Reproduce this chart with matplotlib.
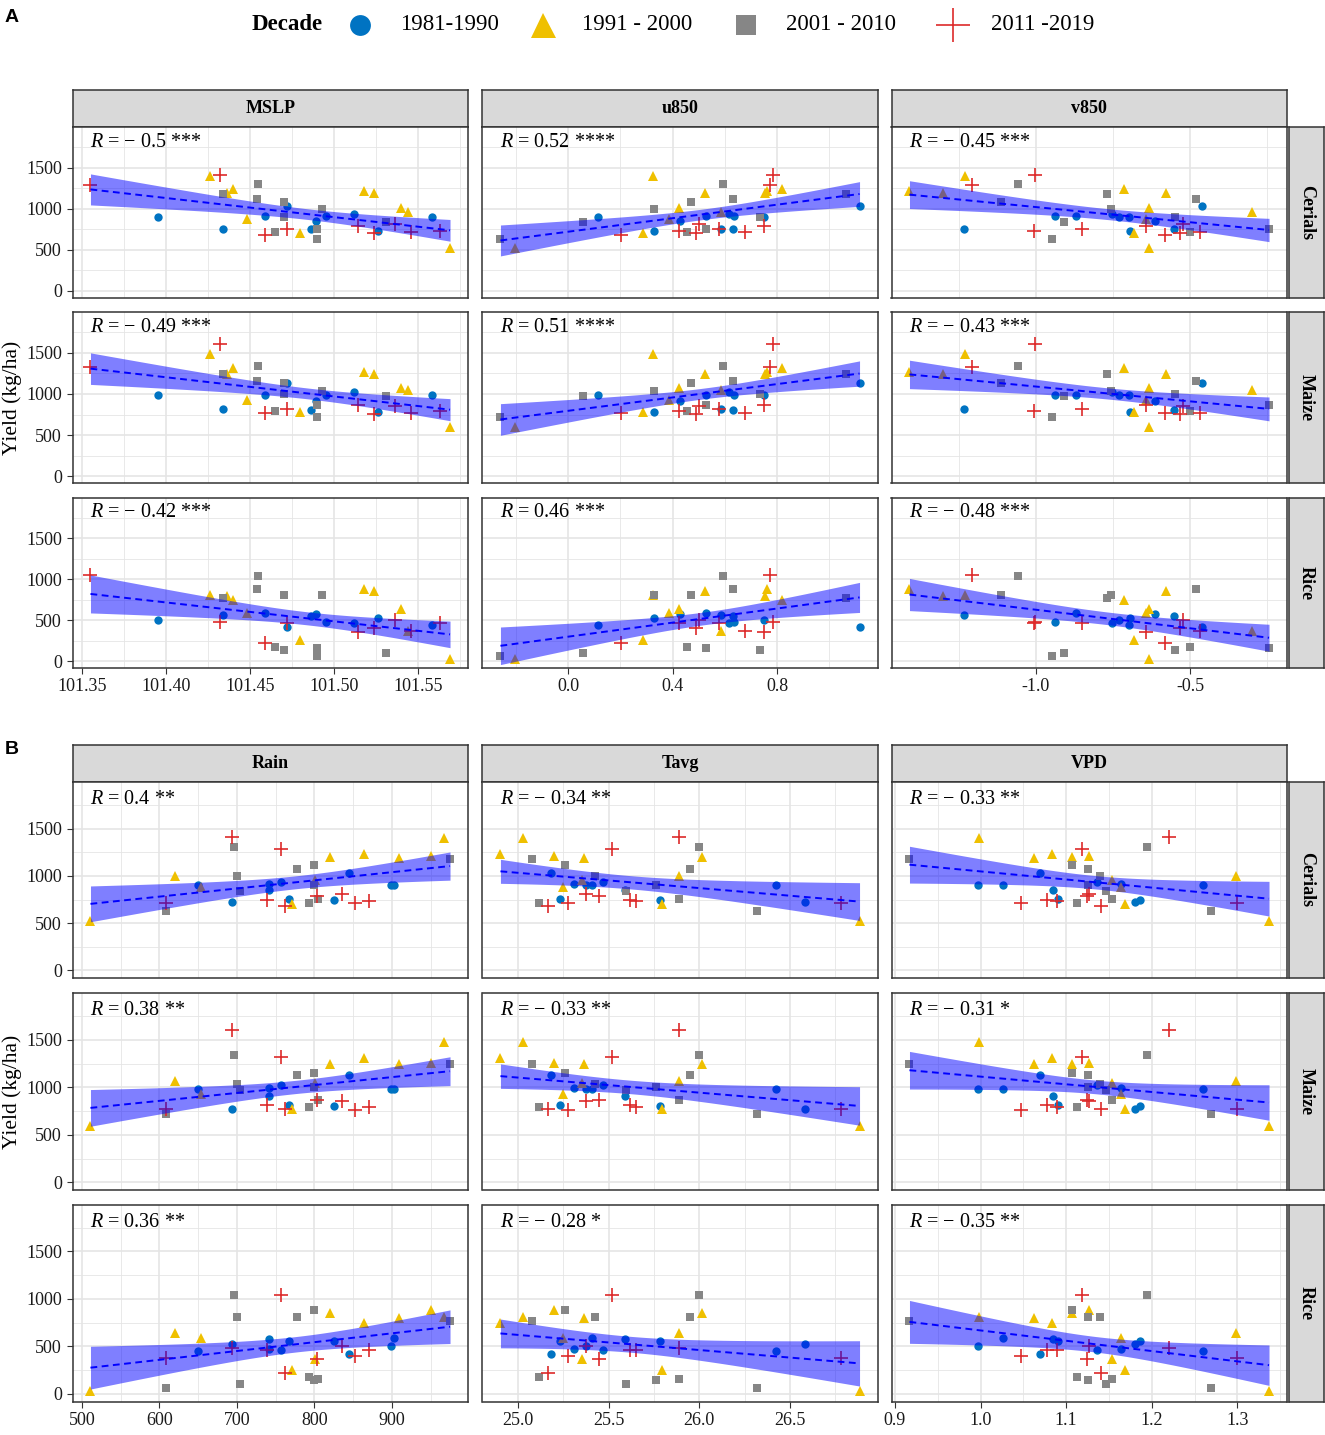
import numpy as np
import matplotlib
matplotlib.use("Agg")
import matplotlib.pyplot as plt
from matplotlib.lines import Line2D

plt.rcParams['font.family'] = 'Liberation Serif'
plt.rcParams['mathtext.fontset'] = 'custom'
plt.rcParams['mathtext.rm'] = 'Liberation Serif'
plt.rcParams['mathtext.it'] = 'Liberation Serif:italic'
plt.rcParams['axes.unicode_minus'] = False

# years 1981-2019, grouped by decade
decade_labels = ['1981-1990', '1991 - 2000', '2001 - 2010', '2011 -2019']
decade_idx = np.repeat([0, 1, 2, 3], [10, 10, 10, 9])

# yields (kg/ha)
cerials = [904, 758, 908, 1034, 750, 851, 912, 940, 726, 900,
           1398, 1188, 1236, 880, 701, 1216, 1196, 1005, 961, 523,
           1184, 1305, 1119, 1078, 900, 713, 758, 628, 1001, 843,
           1289, 1415, 681, 750, 790, 709, 811, 713, 734]
maize = [988, 815, 988, 1129, 806, 911, 992, 1028, 778, 984,
         1484, 1242, 1315, 927, 778, 1262, 1242, 1073, 1052, 597,
         1242, 1343, 1153, 1129, 1000, 790, 871, 718, 1040, 976,
         1323, 1605, 770, 819, 871, 758, 859, 770, 798]
rice = [505, 562, 586, 425, 558, 578, 477, 465, 526, 449,
        809, 801, 748, 586, 255, 882, 853, 639, 368, 32,
        772, 1043, 882, 813, 142, 174, 162, 61, 805, 105,
        1047, 481, 222, 465, 364, 404, 505, 376, 465]

# climate predictors
mslp = [101.395, 101.434, 101.459, 101.472, 101.486, 101.489, 101.495, 101.512, 101.526, 101.558,
        101.426, 101.436, 101.440, 101.448, 101.480, 101.518, 101.524, 101.540, 101.544, 101.569,
        101.434, 101.455, 101.454, 101.470, 101.470, 101.465, 101.490, 101.490, 101.493, 101.531,
        101.355, 101.432, 101.459, 101.472, 101.514, 101.524, 101.536, 101.546, 101.563]
u850 = [0.750, 0.585, 0.528, 1.115, 0.632, 0.429, 0.636, 0.617, 0.328, 0.116,
        0.325, 0.754, 0.820, 0.386, 0.287, 0.760, 0.523, 0.423, 0.585, -0.203,
        1.065, 0.592, 0.632, 0.469, 0.735, 0.455, 0.526, -0.259, 0.329, 0.055,
        0.772, 0.785, 0.201, 0.579, 0.750, 0.490, 0.499, 0.677, 0.424]
v850 = [-0.731, -1.233, -0.871, -0.462, -0.552, -0.613, -0.937, -0.754, -0.695, -0.697,
        -1.229, -1.299, -0.715, -0.643, -0.681, -1.409, -0.578, -0.632, -0.299, -0.632,
        -0.769, -1.057, -0.482, -1.113, -0.549, -0.501, -0.245, -0.947, -0.758, -0.910,
        -1.208, -1.003, -0.581, -0.851, -0.643, -0.532, -0.523, -0.469, -1.006]
rain = [899, 767, 903, 844, 825, 742, 742, 757, 694, 650,
        967, 909, 864, 653, 771, 950, 820, 620, 801, 511,
        975, 696, 800, 777, 800, 793, 805, 609, 700, 704,
        757, 694, 762, 739, 803, 852, 836, 609, 871]
tavg = [25.375, 25.232, 25.408, 25.183, 25.783, 25.591, 25.311, 25.470, 26.582, 26.421,
        25.027, 25.362, 24.903, 25.247, 25.796, 25.201, 26.015, 25.887, 25.353, 26.884,
        25.079, 26.001, 25.260, 25.951, 25.763, 25.115, 25.887, 26.317, 25.426, 25.594,
        25.518, 25.887, 25.165, 25.616, 25.448, 25.274, 25.375, 26.783, 25.653]
vpd = [0.997, 1.090, 1.026, 1.069, 1.186, 1.085, 1.164, 1.136, 1.180, 1.260,
       0.998, 1.063, 1.084, 1.164, 1.169, 1.127, 1.107, 1.299, 1.154, 1.337,
       0.917, 1.195, 1.107, 1.125, 1.125, 1.113, 1.154, 1.269, 1.139, 1.147,
       1.119, 1.220, 1.141, 1.078, 1.124, 1.047, 1.127, 1.300, 1.089]

crops = ['Cerials', 'Maize', 'Rice']
crop_yield = [cerials, maize, rice]

vars_a = ['MSLP', 'u850', 'v850']
vars_b = ['Rain', 'Tavg', 'VPD']
data_a = [mslp, u850, v850]
data_b = [rain, tavg, vpd]
ticks_a = [[101.35, 101.40, 101.45, 101.50, 101.55], [0.0, 0.4, 0.8], [-1.0, -0.5]]
ticklab_a = [['101.35', '101.40', '101.45', '101.50', '101.55'], ['0.0', '0.4', '0.8'], ['-1.0', '-0.5']]
ticks_b = [[500, 600, 700, 800, 900], [25.0, 25.5, 26.0, 26.5], [0.9, 1.0, 1.1, 1.2, 1.3]]
ticklab_b = [['500', '600', '700', '800', '900'], ['25.0', '25.5', '26.0', '26.5'],
             ['0.9', '1.0', '1.1', '1.2', '1.3']]

# correlation labels (rows = crops, cols = variables)
rlab_a = [['− 0.5 ***', '0.52 ****', '− 0.45 ***'],
          ['− 0.49 ***', '0.51 ****', '− 0.43 ***'],
          ['− 0.42 ***', '0.46 ***', '− 0.48 ***']]
rlab_b = [['0.4 **', '− 0.34 **', '− 0.33 **'],
          ['0.38 **', '− 0.33 **', '− 0.31 *'],
          ['0.36 **', '− 0.28 *', '− 0.35 **']]

colors = ['#0073C2', '#EFC000', '#868686', '#DD2A2A']
markers = ['o', '^', 's', '+']
msizes = [6, 7.5, 5.5, 9.5]

W, H = 1325, 1435
fig = plt.figure(figsize=(W / 100, H / 100), dpi=100)


def px_axes(x0, y0, x1, y1):
    return fig.add_axes([x0 / W, 1 - y1 / H, (x1 - x0) / W, (y1 - y0) / H])


def strip(x0, y0, x1, y1, text, rot=0):
    ax = px_axes(x0, y0, x1, y1)
    ax.set_facecolor('#D9D9D9')
    ax.set_xticks([])
    ax.set_yticks([])
    for sp in ax.spines.values():
        sp.set_color('#333333')
        sp.set_linewidth(1.1)
    ax.text(0.5, 0.5, text, transform=ax.transAxes, ha='center', va='center',
            rotation=rot, fontweight='bold', fontsize=13)


def lm_band(x, y, xs):
    n = len(x)
    b, a = np.polyfit(x, y, 1)
    fit = a + b * xs
    s = np.sqrt(np.sum((y - (a + b * x)) ** 2) / (n - 2))
    se = s * np.sqrt(1 / n + (xs - x.mean()) ** 2 / np.sum((x - x.mean()) ** 2))
    t = 2.026  # qt(0.975, 37)
    return fit, fit - t * se, fit + t * se


cols_px = [(72.5, 468), (482.5, 877.5), (891.5, 1287)]


def draw_group(rows_px, strip_y, var_names, var_data, ticks, ticklabs, rlabs):
    for j, (x0, x1) in enumerate(cols_px):
        strip(x0, strip_y[0], x1, strip_y[1], var_names[j])
    for i, (y0, y1) in enumerate(rows_px):
        strip(1289, y0, 1324, y1, crops[i], rot=270)
        for j, (x0, x1) in enumerate(cols_px):
            ax = px_axes(x0, y0, x1, y1)
            x = np.array(var_data[j], dtype=float)
            y = np.array(crop_yield[i], dtype=float)
            for d in range(4):
                m = decade_idx == d
                if markers[d] == '+':
                    ax.plot(x[m], y[m], ls='none', marker='+', ms=msizes[d], mew=1.2,
                            color=colors[d], zorder=2)
                else:
                    ax.plot(x[m], y[m], ls='none', marker=markers[d], ms=msizes[d], mew=0,
                            color=colors[d], zorder=2)
            xs = np.linspace(x.min(), x.max(), 80)
            fit, lo, hi = lm_band(x, y, xs)
            ax.fill_between(xs, lo, hi, color='#0000FF', alpha=0.5, lw=0, zorder=3)
            ax.plot(xs, fit, color='#0000FF', lw=1.4, dashes=(3.5, 2.3), zorder=4)

            rng = x.max() - x.min()
            xlo, xhi = x.min() - 0.05 * rng, x.max() + 0.05 * rng
            ax.set_xlim(xlo, xhi)
            ax.set_ylim(-80, 1995)
            step = ticks[j][1] - ticks[j][0]
            minor = np.arange(ticks[j][0] - step / 2, xhi, step)
            minor = minor[(minor > xlo) & (minor < xhi)]
            ax.set_xticks(ticks[j])
            ax.set_xticks(minor, minor=True)
            ax.set_yticks([0, 500, 1000, 1500])
            ax.set_yticks([250, 750, 1250, 1750], minor=True)
            ax.grid(which='major', color='#E5E5E5', lw=1.2, zorder=0)
            ax.grid(which='minor', color='#E5E5E5', lw=0.6, zorder=0)
            ax.set_axisbelow(True)
            ax.tick_params(which='minor', length=0)
            ax.tick_params(which='major', length=4, width=0.8, color='#333333',
                           labelsize=13, labelcolor='#1A1A1A', pad=3.5)
            if i == 2:
                ax.set_xticklabels(ticklabs[j])
            else:
                ax.set_xticklabels([])
                ax.tick_params(axis='x', length=0)
            if j == 0:
                ax.set_yticklabels(['0', '500', '1000', '1500'])
            else:
                ax.set_yticklabels([])
                ax.tick_params(axis='y', length=0)
            for sp in ax.spines.values():
                sp.set_color('#333333')
                sp.set_linewidth(1.1)
            ax.text(x.min(), 1810, r'$\mathit{R}$ = ' + rlabs[i][j], ha='left', va='center',
                    fontsize=14.5, zorder=5)


draw_group([(127, 297.5), (312, 483), (497.5, 668)], (90, 127),
           vars_a, data_a, ticks_a, ticklab_a, rlab_a)
draw_group([(782, 978), (993, 1190), (1204.5, 1401.5)], (745, 782),
           vars_b, data_b, ticks_b, ticklab_b, rlab_b)

fig.text(12 / W, 1 - 397.5 / H, 'Yield (kg/ha)', rotation=90, ha='center', va='center', fontsize=15.5)
fig.text(12 / W, 1 - 1091.5 / H, 'Yield (kg/ha)', rotation=90, ha='center', va='center', fontsize=15.5)

fig.text(5 / W, 1 - 18 / H, 'A', family='Liberation Sans', fontweight='bold', fontsize=14,
         ha='left', va='center')
fig.text(5 / W, 1 - 750 / H, 'B', family='Liberation Sans', fontweight='bold', fontsize=14,
         ha='left', va='center')

# legend
leg_y = 1 - 25 / H
fig.text(252 / W, leg_y, 'Decade', fontweight='bold', fontsize=16.5, ha='left', va='center')
leg_marker_x = [360, 543, 746, 953]
leg_text_x = [400, 582, 786, 991]
leg_ms = [15, 18, 14, 24]
for d in range(4):
    mew = 1.2 if markers[d] == '+' else 0
    fig.add_artist(Line2D([leg_marker_x[d] / W], [leg_y], marker=markers[d], ms=leg_ms[d],
                          mew=mew, color=colors[d], ls='none', transform=fig.transFigure))
    fig.text(leg_text_x[d] / W, leg_y, decade_labels[d], fontsize=16.5, ha='left', va='center')

fig.savefig('out.png', dpi=100)
